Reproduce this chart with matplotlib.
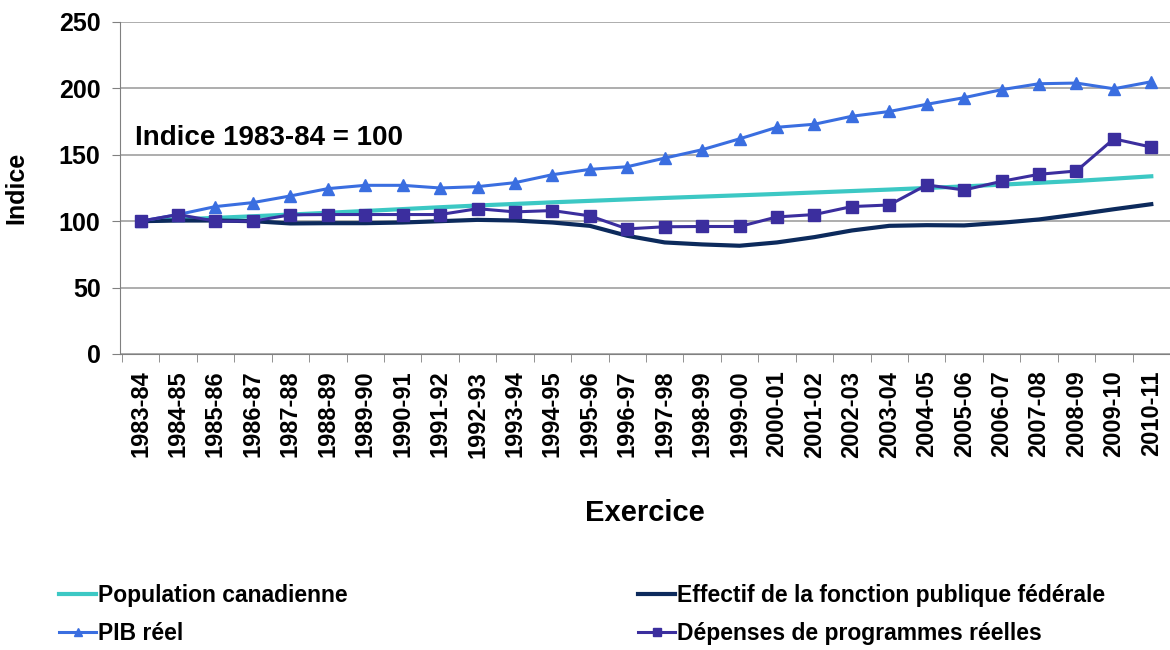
import matplotlib
matplotlib.use("Agg")
import matplotlib.pyplot as plt
from matplotlib.lines import Line2D
import numpy as np

plt.rcParams['font.family'] = ['Liberation Sans', 'DejaVu Sans']
plt.rcParams['font.weight'] = 'bold'

# exercices financiers
exercices = ['1983-84', '1984-85', '1985-86', '1986-87', '1987-88', '1988-89', '1989-90',
             '1990-91', '1991-92', '1992-93', '1993-94', '1994-95', '1995-96', '1996-97',
             '1997-98', '1998-99', '1999-00', '2000-01', '2001-02', '2002-03', '2003-04',
             '2004-05', '2005-06', '2006-07', '2007-08', '2008-09', '2009-10', '2010-11']

population = [100, 101.3, 102.5, 103.7, 105.0, 106.3, 107.7, 109.1, 110.5, 111.8, 113.0,
              114.2, 115.3, 116.4, 117.5, 118.5, 119.5, 120.5, 121.6, 122.7, 123.8,
              125.0, 126.2, 127.5, 128.9, 130.3, 132.0, 133.8]
effectif = [100, 100.5, 100.5, 100, 98.3, 98.5, 98.5, 99, 100, 101, 100.5, 99, 96.5, 89,
            84, 82.5, 81.5, 84, 88, 93, 96.5, 97, 96.8, 98.8, 101.3, 105, 109, 112.8]
pib = [100, 105, 111, 114, 119, 124.5, 127, 127, 125, 126, 129, 135, 139, 141,
       147.5, 153.8, 162, 170.7, 173, 179, 182.6, 188, 193, 199, 203.5, 204, 199.7, 205]
depenses = [100, 105, 100, 100, 104.8, 105, 105, 105, 105, 109.4, 107, 108, 104, 94.2,
            95.8, 96, 96, 103.2, 105, 111, 112.2, 127.3, 123.5, 130, 135.3, 137.8, 162, 155.8]

c_pop = '#3cc8c4'
c_eff = '#0c2a5c'
c_pib = '#3a6ee0'
c_dep = '#3b2e9e'

fig = plt.figure(figsize=(11.7, 6.5), dpi=100)
ax = fig.add_axes([0.1026, 0.4554, 0.8974, 0.5108])

x = np.arange(len(exercices))
ax.plot(x, population, color=c_pop, lw=3, zorder=2)
ax.plot(x, effectif, color=c_eff, lw=3, zorder=2)
ax.plot(x, pib, color=c_pib, lw=2.2, marker='^', ms=9, zorder=3)
ax.plot(x, depenses, color=c_dep, lw=2.2, marker='s', ms=9, zorder=4)

ax.set_xlim(-0.55, len(exercices) - 0.5)
ax.set_ylim(0, 250)
ax.set_yticks(range(0, 251, 50))
ax.set_xticks(x)
ax.set_xticklabels(exercices, rotation=90, fontsize=17, fontweight='bold')
ax.set_xticks(np.arange(-0.5, len(exercices), 1), minor=True)
ax.tick_params(axis='x', which='major', length=0, pad=12)
ax.tick_params(axis='x', which='minor', length=6, color='#808080')
ax.tick_params(axis='y', length=6, color='#808080', labelsize=18, pad=8)
for lab in ax.get_yticklabels():
    lab.set_fontweight('bold')

ax.grid(axis='y', color='#a0a0a0', lw=1.2)
ax.set_axisbelow(True)
for s in ['top', 'right']:
    ax.spines[s].set_visible(False)
ax.spines['left'].set_color('#808080')
ax.spines['bottom'].set_color('#808080')

ax.set_ylabel('Indice', fontsize=18, fontweight='bold', labelpad=22)
ax.set_xlabel('Exercice', fontsize=21, fontweight='bold', labelpad=30)

ax.text(-0.15, 163, 'Indice 1983-84 = 100', fontsize=20, fontweight='bold', va='center')

h1 = [Line2D([], [], color=c_pop, lw=3), Line2D([], [], color=c_pib, lw=2.2, marker='^', ms=6)]
h2 = [Line2D([], [], color=c_eff, lw=3), Line2D([], [], color=c_dep, lw=2.2, marker='s', ms=6)]
leg_kw = dict(frameon=False, handlelength=1.6, handletextpad=0.1,
              labelspacing=0.65, prop={'weight': 'bold', 'size': 16.5})
fig.legend(h1, ['Population canadienne', 'PIB réel'], loc='upper left',
           bbox_to_anchor=(0.033, 0.133), bbox_transform=fig.transFigure, **leg_kw)
fig.legend(h2, ['Effectif de la fonction publique fédérale', 'Dépenses de programmes réelles'],
           loc='upper left', bbox_to_anchor=(0.528, 0.133), bbox_transform=fig.transFigure, **leg_kw)

fig.savefig('out.png', dpi=100)
